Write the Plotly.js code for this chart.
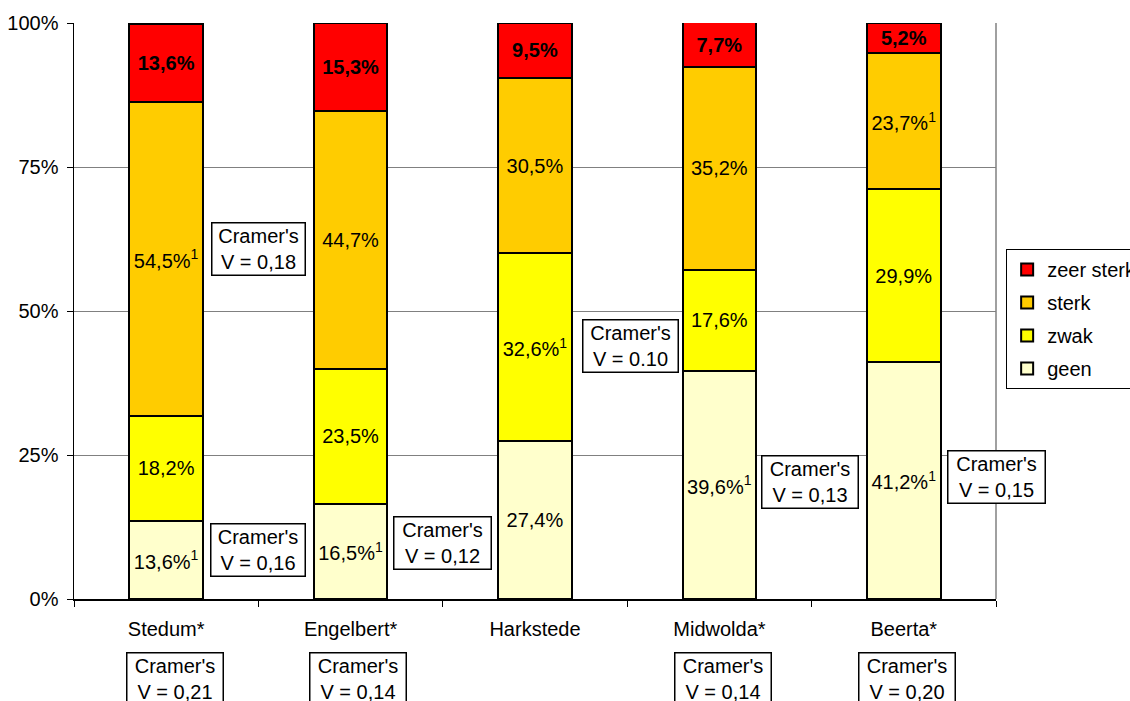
<!DOCTYPE html>
<html>
<head>
<meta charset="utf-8">
<script src="https://cdn.plot.ly/plotly-3.0.1.min.js"></script>
<style>html,body{margin:0;padding:0;background:#fff;}#chart{width:1130px;height:701px;}</style>
</head>
<body>
<div id="chart"></div>
<script>
const categories = ['Stedum*', 'Engelbert*', 'Harkstede', 'Midwolda*', 'Beerta*'];
const seriesNames = ['geen', 'zwak', 'sterk', 'zeer sterk'];
const geen = [13.6, 16.5, 27.4, 39.6, 41.2];
const zwak = [18.2, 23.5, 32.6, 17.6, 29.9];
const sterk = [54.5, 44.7, 30.5, 35.2, 23.7];
const zeerSterk = [13.6, 15.3, 9.5, 7.7, 5.2];
const geenLabels = ['13,6%<sup>1</sup>', '16,5%<sup>1</sup>', '27,4%', '39,6%<sup>1</sup>', '41,2%<sup>1</sup>'];
const zwakLabels = ['18,2%', '23,5%', '32,6%<sup>1</sup>', '17,6%', '29,9%'];
const sterkLabels = ['54,5%<sup>1</sup>', '44,7%', '30,5%', '35,2%', '23,7%<sup>1</sup>'];
const zeerSterkLabels = ['<b>13,6%</b>', '<b>15,3%</b>', '<b>9,5%</b>', '<b>7,7%</b>', '<b>5,2%</b>'];
const yTickVals = [0, 25, 50, 75, 100];
const yTickText = ['0%', '25%', '50%', '75%', '100%'];
const cramerTexts = ['0,18', '0,16', '0,12', '0.10', '0,13', '0,15', '0,15'];
const cramerBottom = ['0,21', '0,14', '0,14', '0,20'];

const FONT = 'Liberation Sans, Arial, sans-serif';
const FS = 20;
const colors = ['#FFFFCC', '#FFFF00', '#FFCC00', '#FF0000'];
const values = [geen, zwak, sterk, zeerSterk];
const labels = [geenLabels, zwakLabels, sterkLabels, zeerSterkLabels];

const data = values.map((v, i) => ({
  type: 'bar',
  name: seriesNames[i],
  x: categories,
  y: v,
  text: labels[i],
  textposition: 'inside',
  insidetextanchor: 'middle',
  constraintext: 'none',
  textangle: 0,
  textfont: {family: FONT, size: FS, color: '#000'},
  hoverinfo: 'none',
  legendrank: 4 - i,
  legendgroup: 'g' + i,
  marker: {color: colors[i], line: {color: '#000', width: 2}}
}));

// in-plot Cramer's V boxes: [x, y, width]
const inPos = [[0.5, 60.8, 88], [0.5, 8.5, 89], [1.5, 9.7, 92], [2.52, 43.9, 90], [3.49, 20.3, 91], [4.5, 21.2, 92], [4.53, 83.2, 104]];
const botPos = [0.05, 1.04, 3.02, 4.02];

const annotations = [];
inPos.forEach((p, i) => {
  annotations.push({
    xref: 'x', yref: 'y', x: p[0], y: p[1], xanchor: 'center', yanchor: 'middle',
    text: "Cramer's<br>V = " + cramerTexts[i], showarrow: false,
    font: {family: FONT, size: FS, color: '#000'},
    bgcolor: '#fff', bordercolor: '#000', borderwidth: 1.5, borderpad: 2,
    width: p[2], height: 47, align: 'center'
  });
});
botPos.forEach((x, i) => {
  annotations.push({
    xref: 'x', yref: 'paper', x: x, y: -0.092, xanchor: 'center', yanchor: 'top',
    text: "Cramer's<br>V = " + cramerBottom[i], showarrow: false,
    font: {family: FONT, size: FS, color: '#000'},
    bgcolor: '#fff', bordercolor: '#000', borderwidth: 1.5, borderpad: 2,
    width: 91, height: 47, align: 'center'
  });
});

const layout = {
  width: 1130, height: 701,
  margin: {l: 74, r: 134, t: 23, b: 102, pad: 0, autoexpand: false},
  paper_bgcolor: '#fff', plot_bgcolor: '#fff',
  barmode: 'stack', bargap: 0.6,
  font: {family: FONT, size: FS, color: '#000'},
  showlegend: true,
  legend: {
    x: 1.011, xanchor: 'left', y: 0.486, yanchor: 'middle',
    traceorder: 'grouped', tracegroupgap: 4,
    bordercolor: '#000', borderwidth: 1, bgcolor: '#fff',
    itemwidth: 30,
    font: {family: FONT, size: FS, color: '#000'}
  },
  xaxis: {
    type: 'category', range: [-0.5, 4.5], fixedrange: true,
    showline: true, linecolor: '#000', linewidth: 1.5,
    ticks: 'outside', tickson: 'boundaries', ticklen: 6, tickcolor: '#000', tickwidth: 1,
    ticklabelstandoff: 11, showgrid: false, zeroline: false,
    tickfont: {family: FONT, size: FS, color: '#000'}
  },
  yaxis: {
    range: [0, 100], fixedrange: true,
    tickvals: yTickVals, ticktext: yTickText,
    showline: true, linecolor: '#000', linewidth: 1.5,
    ticks: 'outside', ticklen: 6, tickcolor: '#000', tickwidth: 1,
    ticklabelstandoff: 4,
    showgrid: true, gridcolor: '#808080', gridwidth: 1, zeroline: false,
    tickfont: {family: FONT, size: FS, color: '#000'}
  },
  shapes: [
    {type: 'line', xref: 'paper', yref: 'paper', x0: 1, x1: 1, y0: 0, y1: 1, line: {color: '#808080', width: 1.5}, layer: 'below'}
  ],
  annotations: annotations
};

Plotly.newPlot('chart', data, layout, {displayModeBar: false, staticPlot: true});
</script>
</body>
</html>
